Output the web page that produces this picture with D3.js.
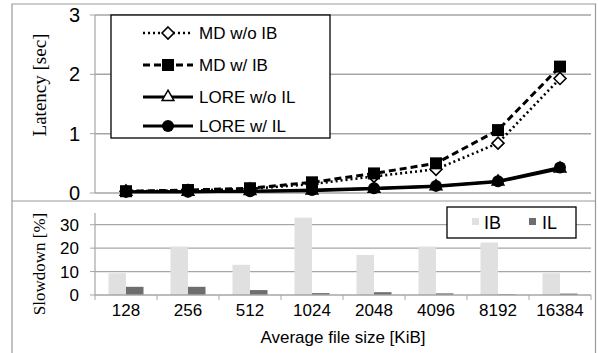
<!DOCTYPE html>
<html>
<head>
<meta charset="utf-8">
<script src="https://cdn.jsdelivr.net/npm/d3@7"></script>
<style>
body { margin: 0; background: #fff; }
svg { display: block; }
</style>
</head>
<body>
<svg id="chart" width="598" height="353"></svg>
<script>
// data
let sizes = ["128", "256", "512", "1024", "2048", "4096", "8192", "16384"];
let mdNoIB = [0.03, 0.04, 0.07, 0.15, 0.28, 0.40, 0.84, 1.93];
let mdIB = [0.03, 0.05, 0.08, 0.18, 0.33, 0.50, 1.06, 2.13];
let loreNoIL = [0.02, 0.02, 0.03, 0.04, 0.07, 0.11, 0.19, 0.41];
let loreIL = [0.02, 0.02, 0.03, 0.05, 0.08, 0.12, 0.20, 0.43];
let slowIB = [9.3, 20.7, 12.9, 33.0, 17.1, 20.7, 22.4, 9.3];
let slowIL = [3.5, 3.5, 2.1, 0.8, 1.2, 0.7, 0.3, 0.6];
let latTicks = [0, 1, 2, 3];
let slowTicks = [0, 10, 20, 30];

let svg = d3.select("#chart");
let sans = "Liberation Sans, Arial, sans-serif";
let serif = "Liberation Serif, Times New Roman, serif";

// outer frame + separator
svg.append("path")
    .attr("d", "M12,353 V4 H595.5 V353")
    .attr("fill", "none").attr("stroke", "#999").attr("stroke-width", 1.2);
svg.append("line").attr("x1", 12).attr("x2", 595.5).attr("y1", 201).attr("y2", 201)
    .attr("stroke", "#999").attr("stroke-width", 1.2);

let x = d3.scaleBand().domain(sizes).range([95, 591]);

// ---------- top: latency ----------
let y1 = d3.scaleLinear().domain([0, 3]).range([193, 15]);

svg.append("g").selectAll("line").data(latTicks).enter().append("line")
    .attr("x1", 95).attr("x2", 591)
    .attr("y1", d => y1(d)).attr("y2", d => y1(d))
    .attr("stroke", "#a6a6a6").attr("stroke-width", 1.5);
svg.append("line").attr("x1", 95).attr("x2", 95).attr("y1", y1(3)).attr("y2", y1(0))
    .attr("stroke", "#a6a6a6").attr("stroke-width", 1.2);
svg.append("g").selectAll("line").data(latTicks).enter().append("line")
    .attr("x1", 90).attr("x2", 95)
    .attr("y1", d => y1(d)).attr("y2", d => y1(d))
    .attr("stroke", "#a6a6a6");
svg.append("g").selectAll("text").data(latTicks).enter().append("text")
    .attr("x", 80).attr("y", d => y1(d) + 7)
    .attr("text-anchor", "end")
    .attr("font-family", sans).attr("font-size", 20)
    .text(d => d);
svg.append("text")
    .attr("transform", "translate(46,85) rotate(-90)")
    .attr("text-anchor", "middle")
    .attr("font-family", serif).attr("font-size", 19)
    .text("Latency [sec]");

let cx = d => x(d) + x.bandwidth() / 2;
let series = [
    {name: "MD w/o IB", vals: mdNoIB, dash: "2,3", w: 2.6, mark: "diamond"},
    {name: "MD w/ IB", vals: mdIB, dash: "7,4", w: 3, mark: "square"},
    {name: "LORE w/o IL", vals: loreNoIL, dash: null, w: 3, mark: "triangle"},
    {name: "LORE w/ IL", vals: loreIL, dash: null, w: 3, mark: "circle"}
];

function marker(g, type, px, py) {
    if (type === "diamond") {
        g.append("path")
            .attr("d", "M0,-6L6,0L0,6L-6,0Z")
            .attr("transform", "translate(" + px + "," + py + ")")
            .attr("fill", "#fff").attr("stroke", "#000").attr("stroke-width", 1.6);
    } else if (type === "square") {
        g.append("rect").attr("x", px - 6).attr("y", py - 6).attr("width", 12).attr("height", 12)
            .attr("fill", "#000");
    } else if (type === "triangle") {
        g.append("path").attr("d", d3.symbol(d3.symbolTriangle, 60)())
            .attr("transform", "translate(" + px + "," + py + ")")
            .attr("fill", "#fff").attr("stroke", "#000").attr("stroke-width", 1.5);
    } else {
        g.append("circle").attr("cx", px).attr("cy", py).attr("r", 6).attr("fill", "#000");
    }
}

let line = d3.line().x((d, i) => cx(sizes[i])).y(d => y1(d));
series.forEach(s => {
    svg.append("path").datum(s.vals)
        .attr("d", line)
        .attr("fill", "none").attr("stroke", "#000")
        .attr("stroke-width", s.w)
        .attr("stroke-dasharray", s.dash);
});
series.forEach(s => {
    let g = svg.append("g");
    s.vals.forEach((v, i) => marker(g, s.mark, cx(sizes[i]), y1(v)));
});

// legend top
svg.append("rect").attr("x", 111).attr("y", 15).attr("width", 219).attr("height", 123)
    .attr("fill", "#fff").attr("stroke", "#000").attr("stroke-width", 1.3);
let legY = [33, 65, 97, 126];
series.forEach((s, i) => {
    let g = svg.append("g");
    g.append("line").attr("x1", 143).attr("x2", 193).attr("y1", legY[i]).attr("y2", legY[i])
        .attr("stroke", "#000").attr("stroke-width", s.w).attr("stroke-dasharray", s.dash);
    marker(g, s.mark, 168, legY[i]);
    g.append("text").attr("x", 199).attr("y", legY[i] + 6)
        .attr("font-family", sans).attr("font-size", 17)
        .text(s.name);
});

// ---------- bottom: slowdown ----------
let y2 = d3.scaleLinear().domain([0, 35]).range([295, 213]);
svg.append("g").selectAll("line").data(slowTicks.slice(1)).enter().append("line")
    .attr("x1", 95).attr("x2", 591)
    .attr("y1", d => y2(d)).attr("y2", d => y2(d))
    .attr("stroke", "#a6a6a6").attr("stroke-width", 1.3);
svg.append("line").attr("x1", 95).attr("x2", 95).attr("y1", y2(35)).attr("y2", y2(0))
    .attr("stroke", "#a6a6a6").attr("stroke-width", 1.2);
svg.append("g").selectAll("line").data(slowTicks).enter().append("line")
    .attr("x1", 90).attr("x2", 95)
    .attr("y1", d => y2(d)).attr("y2", d => y2(d))
    .attr("stroke", "#a6a6a6");
svg.append("g").selectAll("text").data(slowTicks).enter().append("text")
    .attr("x", 79).attr("y", d => y2(d) + 6)
    .attr("text-anchor", "end")
    .attr("font-family", sans).attr("font-size", 17)
    .text(d => d);
svg.append("text")
    .attr("transform", "translate(45,264) rotate(-90)")
    .attr("text-anchor", "middle")
    .attr("font-family", serif).attr("font-size", 17)
    .text("Slowdown [%]");

let bw = 17.5;
svg.append("g").selectAll("rect").data(slowIB).enter().append("rect")
    .attr("x", (d, i) => cx(sizes[i]) - bw)
    .attr("y", d => y2(d))
    .attr("width", bw).attr("height", d => y2(0) - y2(d))
    .attr("fill", "#e0e0e0");
svg.append("g").selectAll("rect").data(slowIL).enter().append("rect")
    .attr("x", (d, i) => cx(sizes[i]))
    .attr("y", d => y2(d))
    .attr("width", bw).attr("height", d => y2(0) - y2(d))
    .attr("fill", "#6e6e6e");

// x axis
svg.append("line").attr("x1", 95).attr("x2", 591).attr("y1", y2(0)).attr("y2", y2(0))
    .attr("stroke", "#a6a6a6").attr("stroke-width", 1.3);
svg.append("g").selectAll("line").data(sizes.concat(["end"])).enter().append("line")
    .attr("x1", (d, i) => 95 + i * x.bandwidth()).attr("x2", (d, i) => 95 + i * x.bandwidth())
    .attr("y1", y2(0)).attr("y2", y2(0) + 5)
    .attr("stroke", "#a6a6a6");
svg.append("g").selectAll("text").data(sizes).enter().append("text")
    .attr("x", d => cx(d)).attr("y", 316)
    .attr("text-anchor", "middle")
    .attr("font-family", sans).attr("font-size", 17)
    .text(d => d);
svg.append("text").attr("x", 343).attr("y", 343)
    .attr("text-anchor", "middle")
    .attr("font-family", sans).attr("font-size", 17)
    .text("Average file size [KiB]");

// legend bottom
svg.append("rect").attr("x", 447).attr("y", 207).attr("width", 129).attr("height", 31)
    .attr("fill", "#fff").attr("stroke", "#000").attr("stroke-width", 1.3);
svg.append("rect").attr("x", 472).attr("y", 218).attr("width", 7).attr("height", 7).attr("fill", "#e0e0e0");
svg.append("text").attr("x", 484).attr("y", 229).attr("font-family", sans).attr("font-size", 18).text("IB");
svg.append("rect").attr("x", 529).attr("y", 218).attr("width", 7).attr("height", 7).attr("fill", "#6e6e6e");
svg.append("text").attr("x", 542).attr("y", 229).attr("font-family", sans).attr("font-size", 18).text("IL");
</script>
</body>
</html>
